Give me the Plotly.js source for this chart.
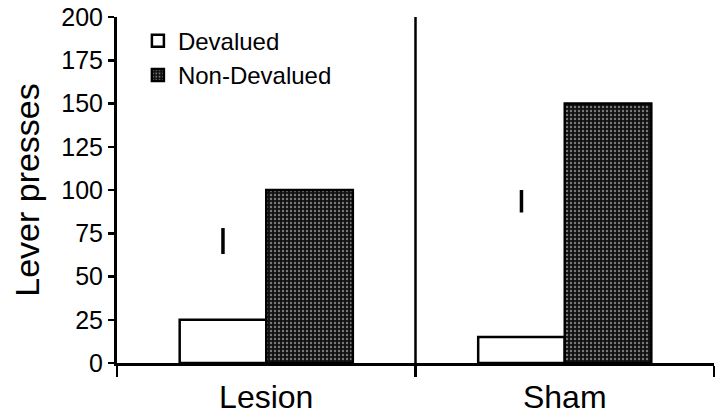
<!DOCTYPE html>
<html>
<head>
<meta charset="utf-8">
<script src="https://cdn.plot.ly/plotly-3.0.1.min.js"></script>
<style>
  body { margin: 0; background: #fff; }
  #chart { width: 720px; height: 420px; }
</style>
</head>
<body>
<div id="chart"></div>
<script>
// groups and series
var groups = ['Lesion', 'Sham'];
var devalued = [25, 15];
var nonDevalued = [100, 150];

// the floating "I" marks above the devalued bars (centre, half length)
var markMid = [70.5, 93.5];
var markHalf = [7.5, 6.5];

var yTicks = [0, 25, 50, 75, 100, 125, 150, 175, 200];

var GAP = 0.42;
// devalued bar sits left of the group centre, half a bar width over
var markX = groups.map(function (g, i) { return i - (1 - GAP) / 4; });

var traceDev = {
  x: groups, y: devalued, name: 'Devalued', type: 'bar',
  marker: { color: '#ffffff', line: { color: '#000', width: 2.5 } },
  hoverinfo: 'skip'
};
var traceNon = {
  x: groups, y: nonDevalued, name: 'Non-Devalued', type: 'bar',
  marker: {
    color: '#111',
    line: { color: '#000', width: 2.5 },
    pattern: { shape: '.', bgcolor: '#111111', fgcolor: '#7a7a7a', size: 4, solidity: 0.28 }
  },
  hoverinfo: 'skip'
};
var traceMarks = {
  x: markX, y: markMid, type: 'scatter', mode: 'markers', xaxis: 'x2',
  showlegend: false, hoverinfo: 'skip',
  marker: { size: 1, color: 'rgba(0,0,0,0)' },
  error_y: { type: 'data', array: markHalf, visible: true, width: 0, thickness: 3.5, color: '#000' }
};

var layout = {
  width: 720, height: 420,
  margin: { l: 117, r: 6, t: 17, b: 57 },
  paper_bgcolor: '#fff', plot_bgcolor: '#fff',
  font: { family: 'Liberation Sans, Arial, sans-serif', color: '#000' },
  barmode: 'group', bargap: GAP, bargroupgap: 0,
  showlegend: true,
  legend: {
    x: 0.035, y: 0.995, xanchor: 'left', yanchor: 'top',
    font: { size: 24, color: '#000' }, bgcolor: 'rgba(0,0,0,0)',
    tracegroupgap: 0, itemwidth: 30
  },
  xaxis: {
    type: 'category', range: [-0.5, 1.5],
    showline: true, linewidth: 3, linecolor: '#000',
    ticks: 'outside', tickson: 'boundaries', ticklen: 11, tickwidth: 2.5, tickcolor: '#000',
    showgrid: false, zeroline: false,
    tickfont: { size: 32 }, ticklabelstandoff: 4
  },
  xaxis2: {
    overlaying: 'x', range: [-0.5, 1.5], visible: false, fixedrange: true
  },
  yaxis: {
    range: [0, 200], tickvals: yTicks,
    showline: true, linewidth: 3, linecolor: '#000',
    ticks: 'outside', ticklen: 6, tickwidth: 2.5, tickcolor: '#000',
    showgrid: false, zeroline: false,
    tickfont: { size: 25 },
    title: { text: 'Lever presses', font: { size: 34 }, standoff: 12 }
  },
  shapes: [{
    type: 'line', xref: 'x', yref: 'paper', x0: 0.5, x1: 0.5, y0: 0, y1: 1,
    line: { color: '#000', width: 2.5 }
  }]
};

Plotly.newPlot('chart', [traceDev, traceNon, traceMarks], layout, { staticPlot: true });
</script>
</body>
</html>
